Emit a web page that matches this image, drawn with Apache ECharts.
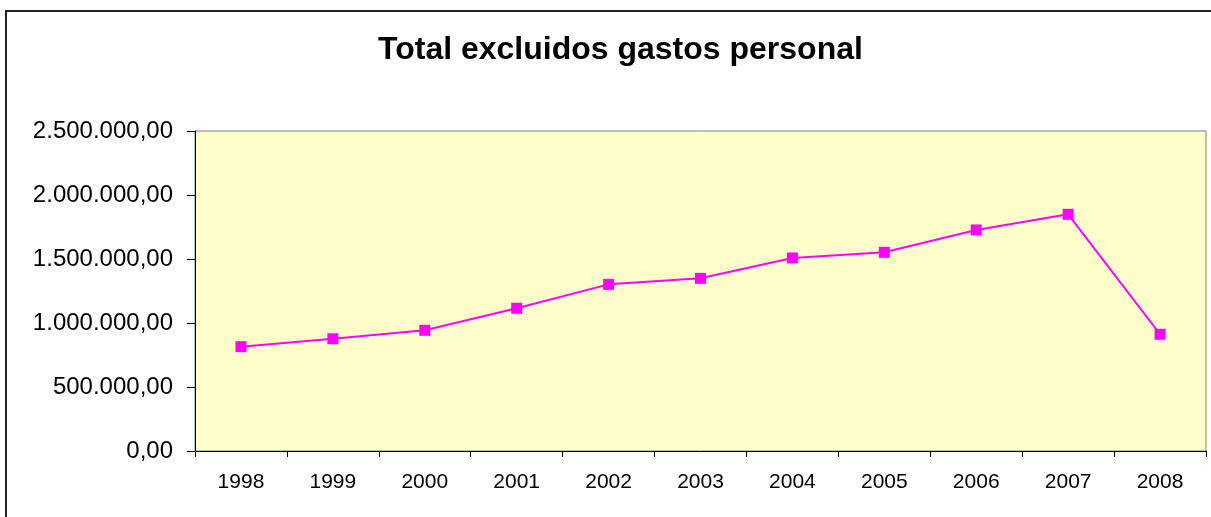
<!DOCTYPE html>
<html>
<head>
<meta charset="utf-8">
<script src="https://cdn.jsdelivr.net/npm/echarts@6/dist/echarts.min.js"></script>
<style>
html,body{margin:0;padding:0;background:#fff;overflow:hidden;width:1211px;height:517px;}
#frame{position:absolute;left:5px;top:10px;width:1300px;height:600px;border-left:2px solid #222;border-top:2px solid #222;box-sizing:border-box;}
#chart{position:absolute;left:0;top:0;width:1211px;height:517px;}
</style>
</head>
<body>
<div id="frame"></div>
<div id="chart"></div>
<script>
const titleText = 'Total excluidos gastos personal';
const years = ['1998','1999','2000','2001','2002','2003','2004','2005','2006','2007','2008'];
const totals = [815000, 877000, 943000, 1115000, 1302000, 1349000, 1508000, 1552000, 1727000, 1849000, 912000];
const yMin = 0, yMax = 2500000, yStep = 500000;

function fmt(v){
  const parts = Math.round(v).toString().replace(/\B(?=(\d{3})+(?!\d))/g, '.');
  return parts + ',00';
}

const chart = echarts.init(document.getElementById('chart'), null, {renderer:'canvas'});
chart.setOption({
  animation:false,
  title:{
    text:titleText, left:373, top:29,
    textStyle:{fontFamily:'Liberation Sans, Arial, sans-serif', fontWeight:'bold', fontSize:32, color:'#000'}
  },
  grid:{left:195, right:5, top:131, bottom:66, show:true, backgroundColor:'#FFFFCC', borderColor:'#808080', borderWidth:1},
  xAxis:{
    type:'category', data:years, boundaryGap:true,
    axisLine:{lineStyle:{color:'#000', width:1}},
    axisTick:{show:true, length:6, interval:0, lineStyle:{color:'#000'}},
    axisLabel:{margin:21, interval:0, color:'#000', fontSize:21, fontFamily:'Liberation Sans, Arial, sans-serif'},
    splitLine:{show:false}
  },
  yAxis:{
    type:'value', min:yMin, max:yMax, interval:yStep,
    axisLine:{show:true, lineStyle:{color:'#000', width:1}},
    axisTick:{show:true, length:8, lineStyle:{color:'#000'}},
    axisLabel:{margin:22, color:'#000', fontSize:24, fontFamily:'Liberation Sans, Arial, sans-serif', formatter:fmt},
    splitLine:{show:false}
  },
  series:[{
    type:'line', data:totals,
    lineStyle:{color:'#FF00FF', width:2},
    itemStyle:{color:'#FF00FF'},
    symbol:'rect', symbolSize:11, showSymbol:true
  }]
});
</script>
</body>
</html>
